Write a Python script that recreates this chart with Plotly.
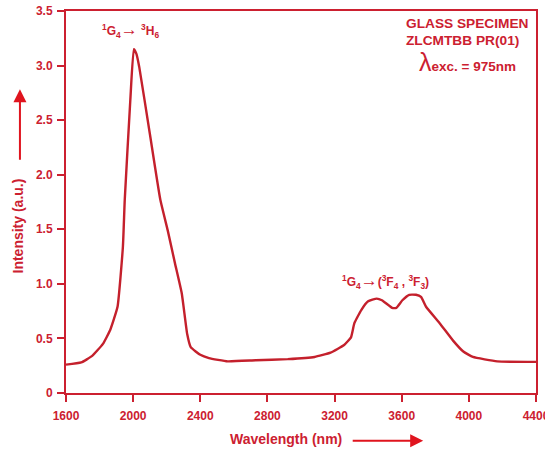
import plotly.graph_objects as go

# Emission spectrum of the Pr-doped glass (ZLCMTBB PR(01)) under 975 nm excitation
wavelength_nm = [1600, 1691, 1756, 1820, 1864, 1907, 1939, 1950, 1983, 2004,
                 2019, 2036, 2099, 2162, 2206, 2249, 2290, 2322, 2343, 2400,
                 2452, 2563, 2730, 2921, 3081, 3176, 3257, 3298, 3318, 3359,
                 3400, 3451, 3482, 3543, 3568, 3604, 3645, 3685, 3715, 3745,
                 3826, 3906, 3967, 4024, 4169, 4400]
intensity_au = [0.26, 0.28, 0.34, 0.45, 0.58, 0.79, 1.34, 1.77, 2.68, 3.15,
                3.11, 2.99, 2.38, 1.77, 1.49, 1.19, 0.91, 0.54, 0.42, 0.35,
                0.32, 0.29, 0.30, 0.31, 0.33, 0.37, 0.44, 0.51, 0.64, 0.76,
                0.84, 0.865, 0.85, 0.78, 0.78, 0.85, 0.90, 0.90, 0.88, 0.79,
                0.64, 0.48, 0.38, 0.33, 0.29, 0.285]

x_ticks = [1600, 2000, 2400, 2800, 3200, 3600, 4000, 4400]
y_ticks = [0, 0.5, 1.0, 1.5, 2.0, 2.5, 3.0, 3.5]
y_tick_text = ["0", "0.5", "1.0", "1.5", "2.0", "2.5", "3.0", "3.5"]

RED = "#cc2030"
LINE_RED = "#c4202c"
FONT = "Arial, Liberation Sans, sans-serif"

fig = go.Figure()
fig.add_trace(go.Scatter(
    x=wavelength_nm, y=intensity_au, mode="lines",
    line=dict(color=LINE_RED, width=2.4, shape="spline", smoothing=0.4),
    hoverinfo="skip", showlegend=False,
))

axis_common = dict(
    showline=True, linecolor=RED, linewidth=2, mirror=True,
    showgrid=False, zeroline=False,
    ticks="outside", ticklen=7, tickwidth=2, tickcolor=RED,
    tickfont=dict(family=FONT, size=12, color=RED, weight="bold"),
    ticklabeloverflow="allow", automargin=False,
)

fig.update_layout(
    width=545, height=450,
    margin=dict(l=66, r=9, t=11, b=57, autoexpand=False),
    paper_bgcolor="white", plot_bgcolor="white",
    xaxis=dict(range=[1600, 4400], tickvals=x_ticks, ticklabelstandoff=4,
               **axis_common),
    yaxis=dict(range=[0, 3.5], tickvals=y_ticks, ticktext=y_tick_text,
               ticklabelstandoff=2, **axis_common),
    font=dict(family=FONT, color=RED),
)

bold = dict(family=FONT, color=RED, weight="bold")
ARROW = "<span style='font-size:17px'>\u2192</span>"

annotations = [
    # transition labels
    dict(x=1985, y=3.33, xref="x", yref="y", showarrow=False,
         xanchor="center", yanchor="middle",
         text="<sup>1</sup>G<sub>4</sub>" + ARROW + " <sup>3</sup>H<sub>6</sub>",
         font=dict(size=12, **bold)),
    dict(x=3505, y=1.03, xref="x", yref="y", showarrow=False,
         xanchor="center", yanchor="middle",
         text="<sup>1</sup>G<sub>4</sub>" + ARROW + "(<sup>3</sup>F<sub>4</sub> , <sup>3</sup>F<sub>3</sub>)",
         font=dict(size=12, **bold)),
    # specimen block
    dict(x=0.719, y=0.968, xref="paper", yref="paper", showarrow=False,
         xanchor="left", yanchor="middle", text="GLASS SPECIMEN",
         font=dict(size=13.7, **bold)),
    dict(x=0.719, y=0.924, xref="paper", yref="paper", showarrow=False,
         xanchor="left", yanchor="middle", text="ZLCMTBB PR(01)",
         font=dict(size=13.7, **bold)),
    dict(x=0.746, y=0.866, xref="paper", yref="paper", showarrow=False,
         xanchor="left", yanchor="middle",
         text="<span style='font-size:25px;font-weight:normal'>\u03bb</span>exc. = 975nm",
         font=dict(size=13.5, **bold)),
    # axis titles
    dict(x=-0.102, y=0.436, xref="paper", yref="paper", showarrow=False,
         xanchor="center", yanchor="middle",
         text="Intensity (a.u.)", textangle=-90,
         font=dict(size=14, **bold)),
    dict(x=0.468, y=-0.12, xref="paper", yref="paper", showarrow=False,
         xanchor="center", yanchor="middle",
         text="Wavelength (nm)", font=dict(size=14, **bold)),
    # direction arrows
    dict(x=-0.098, y=0.795, xref="paper", yref="paper", text="",
         showarrow=True, axref="pixel", ayref="pixel", ax=0, ay=72,
         arrowhead=2, arrowsize=1.3, arrowwidth=2, arrowcolor="#e0141e"),
    dict(x=0.76, y=-0.125, xref="paper", yref="paper", text="",
         showarrow=True, axref="pixel", ayref="pixel", ax=-72, ay=0,
         arrowhead=2, arrowsize=1.3, arrowwidth=2, arrowcolor="#e0141e"),
]
fig.update_layout(annotations=annotations)

fig.write_html("out.html")
